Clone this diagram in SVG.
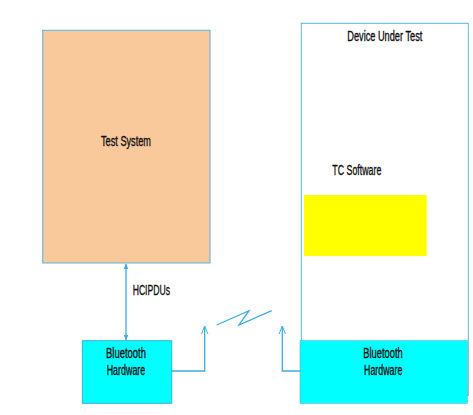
<svg xmlns="http://www.w3.org/2000/svg" width="473" height="415" viewBox="0 0 473 415">
<defs>
<style>
.t{font-family:"Liberation Sans Narrow","Liberation Sans",Arial,sans-serif;font-size:14px;fill:#111;stroke:#111;stroke-width:0.35;}
.ln{fill:none;stroke:#3aaee0;stroke-width:1.3;}
</style>
<marker id="fa" viewBox="0 0 10 10" refX="9" refY="5" markerWidth="6" markerHeight="6" orient="auto-start-reverse" markerUnits="userSpaceOnUse">
<path d="M0,1 L10,5 L0,9 z" fill="#3aaee0"/>
</marker>
<marker id="oa" viewBox="0 0 10 10" refX="10" refY="5" markerWidth="8" markerHeight="8" orient="auto" markerUnits="userSpaceOnUse">
<path d="M0,1 L10,5 L0,9" fill="none" stroke="#3aaee0" stroke-width="1.2"/>
</marker>
</defs>
<rect width="473" height="415" fill="#fff"/>
<g id="test-system">
<rect x="42.7" y="30.3" width="167.3" height="232.7" fill="#f9c89b" stroke="#5ab4dc" stroke-width="1"/>
<text class="t" x="101" y="145.6" textLength="50" lengthAdjust="spacingAndGlyphs">Test System</text>
</g>
<g id="device-under-test">
<rect x="301.3" y="23.3" width="167" height="372" fill="#fff" stroke="#5ab4dc" stroke-width="1"/>
<text class="t" x="347.3" y="40.7" textLength="75" lengthAdjust="spacingAndGlyphs">Device Under Test</text>
</g>
<g id="tc-software">
<text class="t" x="332.3" y="175" textLength="49" lengthAdjust="spacingAndGlyphs">TC Software</text>
<rect x="304" y="195" width="122.7" height="61" fill="#ffff00"/>
</g>
<g id="bt-left">
<rect x="82.3" y="340.7" width="89.4" height="62.6" fill="#00ffff" stroke="#3aaee0" stroke-width="1"/>
<text class="t" x="106" y="358" textLength="40" lengthAdjust="spacingAndGlyphs">Bluetooth</text>
<text class="t" x="106.7" y="374.5" textLength="38.6" lengthAdjust="spacingAndGlyphs">Hardware</text>
</g>
<g id="bt-right">
<rect x="300" y="340.7" width="167.3" height="62.6" fill="#00ffff" stroke="#5ab4dc" stroke-width="0.6"/>
<text class="t" x="363.3" y="358" textLength="39.4" lengthAdjust="spacingAndGlyphs">Bluetooth</text>
<text class="t" x="364" y="374.5" textLength="38.3" lengthAdjust="spacingAndGlyphs">Hardware</text>
</g>
<g id="connectors">
<line class="ln" x1="126" y1="264" x2="126" y2="340" marker-start="url(#fa)" marker-end="url(#fa)"/>
<text class="t" x="132.7" y="295" textLength="37.3" lengthAdjust="spacingAndGlyphs">HCIPDUs</text>
<polyline class="ln" points="171.7,371 204.7,371 204.7,326" marker-end="url(#oa)"/>
<polyline class="ln" points="300,371 282.3,371 282.3,326" marker-end="url(#oa)"/>
<polyline class="ln" points="216.7,325 249,310.7 239,325 271.7,310.7"/>
</g>
</svg>
